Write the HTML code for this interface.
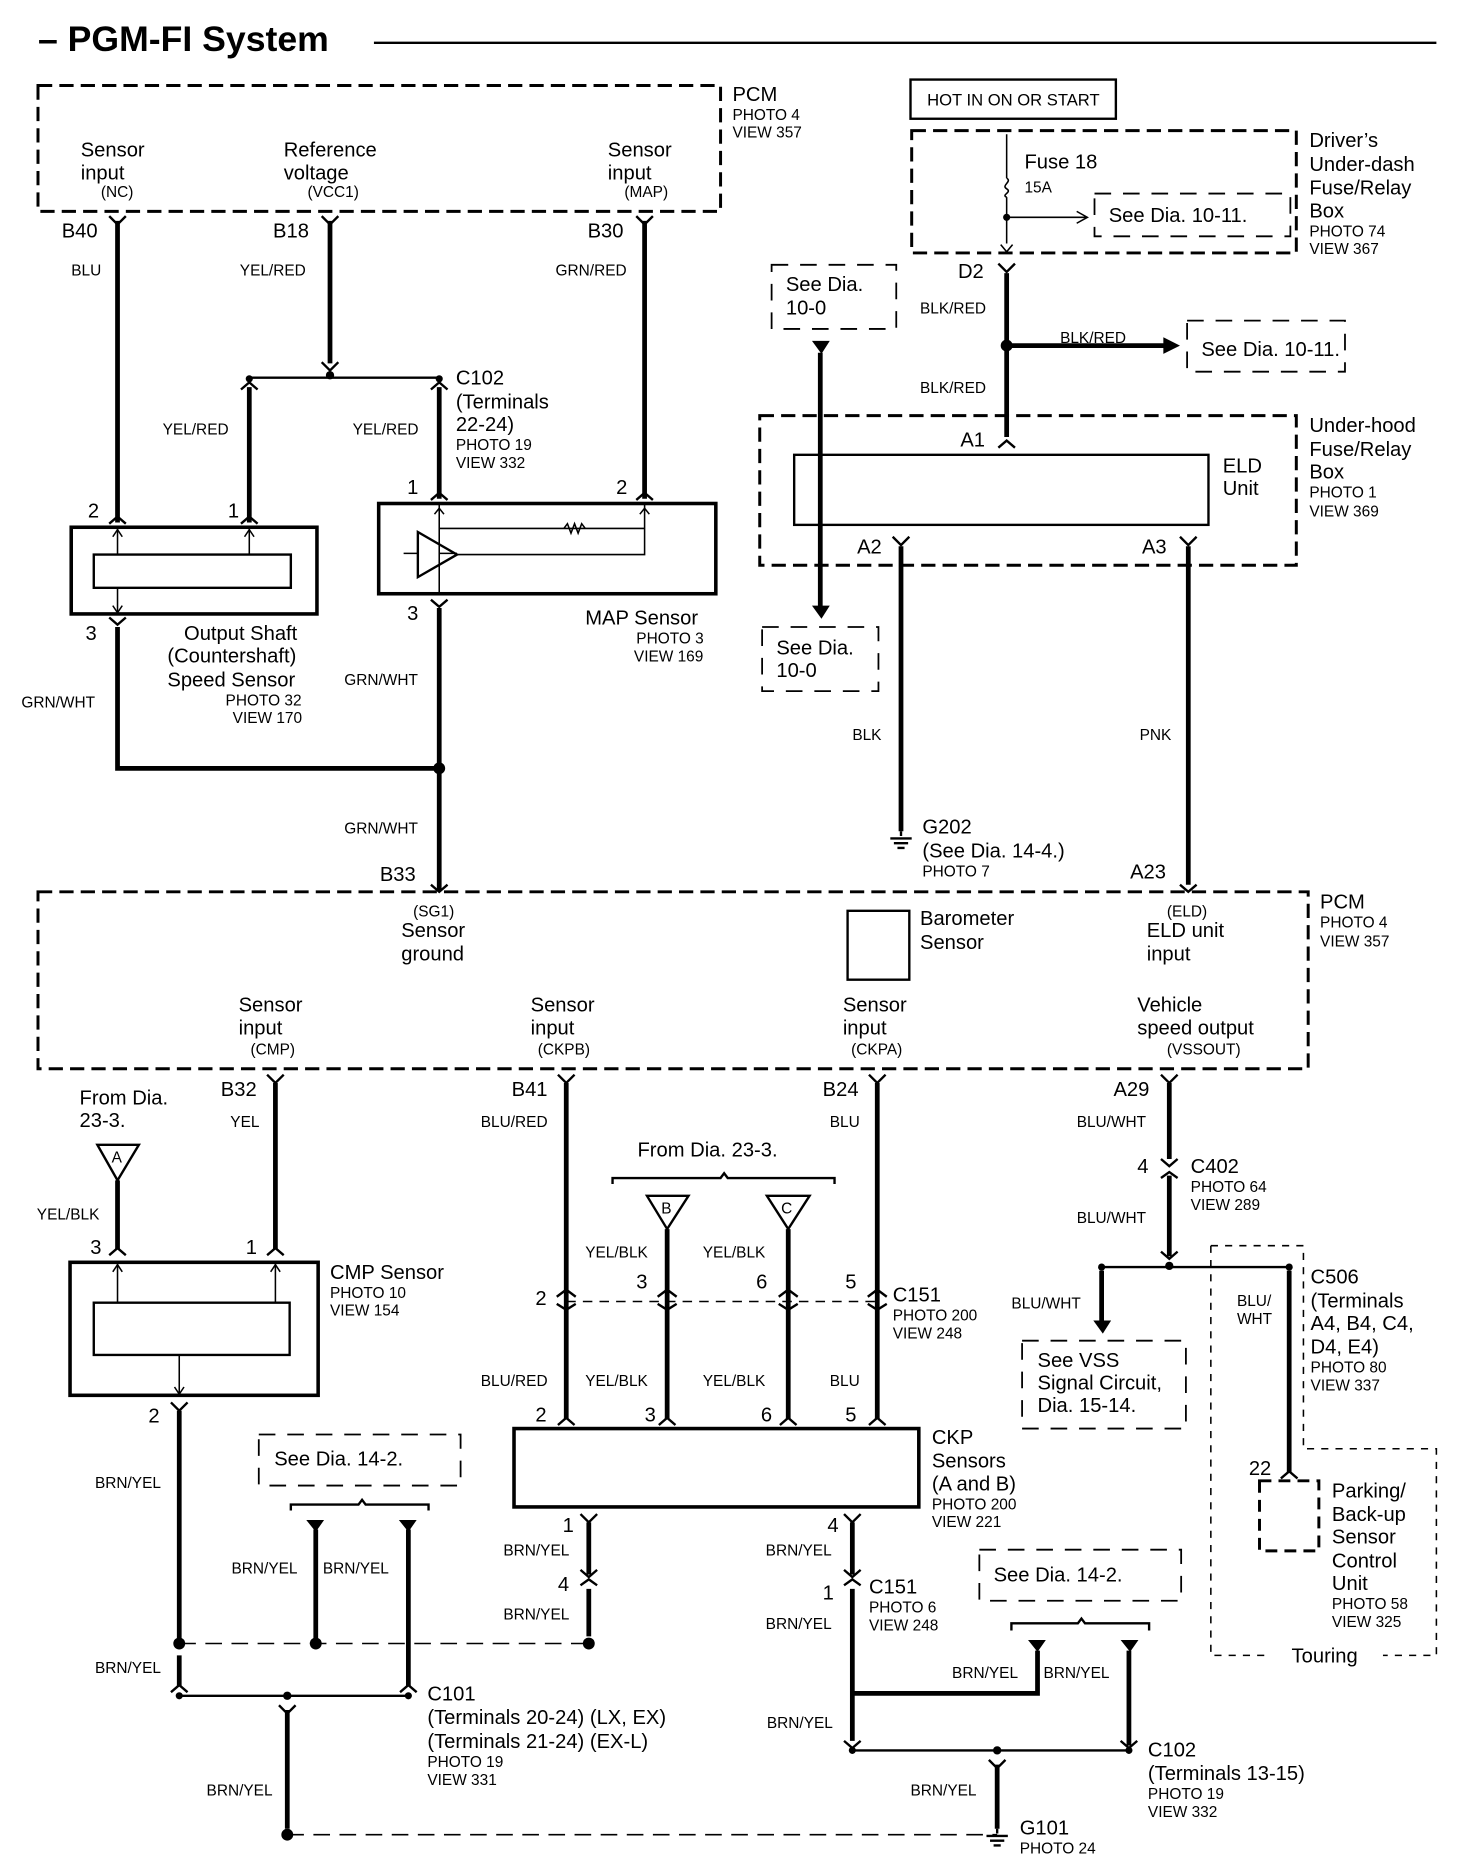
<!DOCTYPE html>
<html><head><meta charset="utf-8"><style>
html,body{margin:0;padding:0;background:#fff}
svg{display:block}
text{font-family:"Liberation Sans",sans-serif;fill:#000}
.l{font-size:17px}.s{font-size:13px}.w{font-size:13px}
.t{stroke:#000;stroke-width:4;fill:none}
.n{stroke:#000;stroke-width:2;fill:none}
.h{stroke:#000;stroke-width:1.3;fill:none}
.d{stroke:#000;stroke-width:2.5;fill:none;stroke-dasharray:12 6}
.dd{stroke:#000;stroke-width:1.5;fill:none;stroke-dasharray:14 10}
</style></head><body>
<svg width="1472" height="1862" viewBox="0 0 1240 1568" preserveAspectRatio="none" xmlns="http://www.w3.org/2000/svg">
<text x="32" y="43" style="font-size:30px;font-weight:bold">– PGM-FI System</text>
<line x1="315" y1="36" x2="1210" y2="36" class="n"/>

<!-- top PCM -->
<rect x="32" y="72" width="575" height="106" class="d"/>
<text x="617" y="85" class="l">PCM</text><text x="617" y="101" class="s">PHOTO 4</text><text x="617" y="116" class="s">VIEW 357</text>
<text x="68" y="132" class="l">Sensor</text><text x="68" y="151" class="l">input</text><text x="85" y="166" class="s">(NC)</text>
<text x="239" y="132" class="l">Reference</text><text x="239" y="151" class="l">voltage</text><text x="259" y="166" class="s">(VCC1)</text>
<text x="512" y="132" class="l">Sensor</text><text x="512" y="151" class="l">input</text><text x="526" y="166" class="s">(MAP)</text>
<text x="52" y="200" class="l">B40</text><text x="230" y="200" class="l">B18</text><text x="495" y="200" class="l">B30</text>
<text x="60" y="232" class="w">BLU</text><text x="202" y="232" class="w">YEL/RED</text><text x="468" y="232" class="w">GRN/RED</text>
<path d="M99 186V440M278 186V306M543 186V420M210 326V440M370 326V420" class="t"/>
<path d="M92 182l7 7 7-7M271 182l7 7 7-7M536 182l7 7 7-7" class="n"/>
<path d="M210 318H370" class="n"/><circle cx="278" cy="316" r="3.5"/><circle cx="210" cy="319" r="3"/><circle cx="370" cy="319" r="3"/>
<path d="M271 305l7 7 7-7M203 328l7-6 7 6M363 328l7-6 7 6" class="n"/>
<text x="137" y="366" class="w">YEL/RED</text><text x="297" y="366" class="w">YEL/RED</text>
<text x="384" y="324" class="l">C102</text><text x="384" y="344" class="l">(Terminals</text><text x="384" y="363" class="l">22-24)</text><text x="384" y="379" class="s">PHOTO 19</text><text x="384" y="394" class="s">VIEW 332</text>
<text x="74" y="436" class="l">2</text><text x="192" y="436" class="l">1</text><text x="343" y="416" class="l">1</text><text x="519" y="416" class="l">2</text>
<path d="M92 441l7-6 7 6M203 441l7-6 7 6M363 421l7-6 7 6M536 421l7-6 7 6" class="n"/>
<rect x="60" y="444" width="207" height="73" class="t" style="stroke-width:3"/>
<rect x="79" y="467" width="166" height="28" class="n"/>
<path d="M99 467V444M210 467V444" class="h"/><path d="M95 452l4-6 4 6M206 452l4-6 4 6M95 510l4 6 4-6" class="h"/><path d="M99 495V517" class="h"/>
<rect x="319" y="424" width="284" height="76" class="t" style="stroke-width:3"/>
<path d="M370 424V445H543V424M370 445V500M370 466H385M543 445V467H385M340 466H352" class="h"/>
<path d="M352 448L385 467L352 486Z" class="n"/>
<path d="M475 445l3-4 3 8 3-8 3 8 3-8 3 4" class="h"/>
<path d="M366 433l4-5 4 5M539 433l4-5 4 5" class="h"/>
<text x="72" y="539" class="l">3</text><text x="343" y="522" class="l">3</text>
<path d="M92 520l7 6 7-6M363 505l7 6 7-6" class="n"/>
<path d="M99 528V647H370M370 512V750" class="t"/><circle cx="370" cy="647" r="5"/>
<text x="155" y="539" class="l">Output Shaft</text><text x="141" y="558" class="l">(Countershaft)</text><text x="141" y="578" class="l">Speed Sensor</text><text x="190" y="594" class="s">PHOTO 32</text><text x="196" y="609" class="s">VIEW 170</text>
<text x="493" y="526" class="l">MAP Sensor</text><text x="536" y="542" class="s">PHOTO 3</text><text x="534" y="557" class="s">VIEW 169</text>
<text x="18" y="596" class="w">GRN/WHT</text><text x="290" y="577" class="w">GRN/WHT</text><text x="290" y="702" class="w">GRN/WHT</text>
<text x="320" y="742" class="l">B33</text>

<!-- top right -->
<rect x="767" y="67" width="173" height="33" class="n"/><text x="781" y="89" style="font-size:14px">HOT IN ON OR START</text>
<rect x="768" y="110" width="324" height="103" class="d"/>
<text x="1103" y="124" class="l">Driver’s</text><text x="1103" y="144" class="l">Under-dash</text><text x="1103" y="164" class="l">Fuse/Relay</text><text x="1103" y="183" class="l">Box</text><text x="1103" y="199" class="s">PHOTO 74</text><text x="1103" y="214" class="s">VIEW 367</text>
<path d="M848 113V150M848 166V205" class="h"/><path d="M848 150c5 3-5 6 0 9s-5 5 0 7" class="h"/>
<circle cx="848" cy="183" r="3"/><path d="M848 183H915" class="h"/><path d="M907 178l9 5-9 5" class="h"/>
<text x="863" y="142" class="l">Fuse 18</text><text x="863" y="162" class="s">15A</text>
<rect x="922" y="163" width="165" height="36" class="dd"/><text x="934" y="187" class="l">See Dia. 10-11.</text>
<path d="M843 206l5 6 5-6" class="h"/>
<text x="807" y="234" class="l">D2</text><path d="M841 222l7 7 7-7" class="n"/>
<path d="M848 230V368" class="t"/><circle cx="848" cy="291" r="5"/>
<path d="M848 291H985" class="t"/><path d="M980 284l14 7-14 7Z"/>
<text x="775" y="264" class="w">BLK/RED</text><text x="893" y="289" class="w">BLK/RED</text><text x="775" y="331" class="w">BLK/RED</text>
<rect x="1000" y="270" width="133" height="43" class="dd"/><text x="1012" y="300" class="l">See Dia. 10-11.</text>
<rect x="650" y="223" width="105" height="54" class="dd"/><text x="662" y="245" class="l">See Dia.</text><text x="662" y="265" class="l">10-0</text>
<path d="M684 287h15l-7 11Z"/><path d="M691 297V512" class="t"/><path d="M684 510h15l-7 11Z"/>
<rect x="642" y="528" width="98" height="54" class="dd"/><text x="654" y="551" class="l">See Dia.</text><text x="654" y="570" class="l">10-0</text>
<rect x="640" y="350" width="452" height="126" class="d"/>
<text x="1103" y="364" class="l">Under-hood</text><text x="1103" y="384" class="l">Fuse/Relay</text><text x="1103" y="403" class="l">Box</text><text x="1103" y="419" class="s">PHOTO 1</text><text x="1103" y="435" class="s">VIEW 369</text>
<text x="809" y="376" class="l">A1</text><path d="M841 377l7-6 7 6" class="n"/>
<rect x="669" y="383" width="349" height="59" class="n"/>
<text x="1030" y="398" class="l">ELD</text><text x="1030" y="417" class="l">Unit</text>
<text x="722" y="466" class="l">A2</text><text x="962" y="466" class="l">A3</text>
<path d="M752 452l7 7 7-7M994 452l7 7 7-7" class="n"/>
<path d="M759 460V700M1001 460V745" class="t"/>
<text x="718" y="623" class="w">BLK</text><text x="960" y="623" class="w">PNK</text>
<path d="M759 700v4M750 706h18M753 710h12M756 714h6" class="n"/>
<text x="777" y="702" class="l">G202</text><text x="777" y="722" class="l">(See Dia. 14-4.)</text><text x="777" y="738" class="s">PHOTO 7</text>
<text x="952" y="740" class="l">A23</text><path d="M994 745l7 6 7-6M363 745l7 6 7-6" class="n"/>

<!-- big PCM -->
<rect x="32" y="751" width="1070" height="149" class="d"/>
<text x="1112" y="765" class="l">PCM</text><text x="1112" y="781" class="s">PHOTO 4</text><text x="1112" y="797" class="s">VIEW 357</text>
<text x="348" y="772" class="s">(SG1)</text><text x="338" y="789" class="l">Sensor</text><text x="338" y="809" class="l">ground</text>
<rect x="714" y="767" width="52" height="58" class="n"/><text x="775" y="779" class="l">Barometer</text><text x="775" y="799" class="l">Sensor</text>
<text x="983" y="772" class="s">(ELD)</text><text x="966" y="789" class="l">ELD unit</text><text x="966" y="809" class="l">input</text>
<text x="201" y="852" class="l">Sensor</text><text x="201" y="871" class="l">input</text><text x="211" y="888" class="s">(CMP)</text>
<text x="447" y="852" class="l">Sensor</text><text x="447" y="871" class="l">input</text><text x="453" y="888" class="s">(CKPB)</text>
<text x="710" y="852" class="l">Sensor</text><text x="710" y="871" class="l">input</text><text x="717" y="888" class="s">(CKPA)</text>
<text x="958" y="852" class="l">Vehicle</text><text x="958" y="871" class="l">speed output</text><text x="983" y="888" class="s">(VSSOUT)</text>

<!-- lower wires -->
<text x="186" y="923" class="l">B32</text><text x="431" y="923" class="l">B41</text><text x="693" y="923" class="l">B24</text><text x="938" y="923" class="l">A29</text>
<path d="M225 905l7 7 7-7M470 905l7 7 7-7M732 905l7 7 7-7M978 905l7 7 7-7" class="n"/>
<path d="M232 912V1052M477 912V1195M739 912V1195M985 912V976M985 990V1058" class="t"/>
<text x="194" y="949" class="w">YEL</text><text x="405" y="949" class="w">BLU/RED</text><text x="699" y="949" class="w">BLU</text><text x="907" y="949" class="w">BLU/WHT</text>
<text x="67" y="930" class="l">From Dia.</text><text x="67" y="949" class="l">23-3.</text>
<path d="M82 964H117L99 994Z" class="n"/><text x="94" y="979" class="s">A</text>
<path d="M99 994V1052" class="t"/><text x="31" y="1027" class="w">YEL/BLK</text>
<text x="76" y="1056" class="l">3</text><text x="207" y="1056" class="l">1</text>
<path d="M92 1057l7-6 7 6M225 1057l7-6 7 6" class="n"/>
<rect x="59" y="1063" width="209" height="112" class="t" style="stroke-width:3"/>
<rect x="79" y="1097" width="165" height="44" class="n"/>
<path d="M99 1097V1063M232 1097V1063M151 1141V1175" class="h"/><path d="M95 1071l4-6 4 6M228 1071l4-6 4 6M147 1168l4 6 4-6" class="h"/>
<text x="278" y="1077" class="l">CMP Sensor</text><text x="278" y="1093" class="s">PHOTO 10</text><text x="278" y="1108" class="s">VIEW 154</text>
<text x="125" y="1198" class="l">2</text><path d="M144 1181l7 7 7-7" class="n"/>
<path d="M151 1188V1384M151 1394V1420" class="t"/><text x="80" y="1253" class="w">BRN/YEL</text>
<text x="537" y="974" class="l">From Dia. 23-3.</text>
<path d="M516 997V992H607l3-4 3 4H703V997" class="n"/>
<path d="M545 1007H580L562 1035Z" class="n"/><text x="557" y="1022" class="s">B</text>
<path d="M646 1007H682L664 1035Z" class="n"/><text x="658" y="1022" class="s">C</text>
<path d="M562 1035V1195M664 1035V1195" class="t"/>
<text x="493" y="1059" class="w">YEL/BLK</text><text x="592" y="1059" class="w">YEL/BLK</text>
<text x="451" y="1099" class="l">2</text><text x="536" y="1085" class="l">3</text><text x="637" y="1085" class="l">6</text><text x="712" y="1085" class="l">5</text>
<path d="M469 1092l8-6 8 6M469 1098l8 5 8-5M554 1092l8-6 8 6M554 1098l8 5 8-5M656 1092l8-6 8 6M656 1098l8 5 8-5M731 1092l8-6 8 6M731 1098l8 5 8-5" class="n"/>
<path d="M477 1096H739" class="h" style="stroke-dasharray:8 6"/>
<text x="752" y="1096" class="l">C151</text><text x="752" y="1112" class="s">PHOTO 200</text><text x="752" y="1127" class="s">VIEW 248</text>
<text x="405" y="1167" class="w">BLU/RED</text><text x="493" y="1167" class="w">YEL/BLK</text><text x="592" y="1167" class="w">YEL/BLK</text><text x="699" y="1167" class="w">BLU</text>
<text x="451" y="1197" class="l">2</text><text x="543" y="1197" class="l">3</text><text x="641" y="1197" class="l">6</text><text x="712" y="1197" class="l">5</text>
<path d="M470 1200l7-6 7 6M555 1200l7-6 7 6M657 1200l7-6 7 6M732 1200l7-6 7 6" class="n"/>
<rect x="433" y="1203" width="341" height="66" class="t" style="stroke-width:3"/>
<text x="785" y="1216" class="l">CKP</text><text x="785" y="1236" class="l">Sensors</text><text x="785" y="1255" class="l">(A and B)</text><text x="785" y="1271" class="s">PHOTO 200</text><text x="785" y="1286" class="s">VIEW 221</text>
<text x="474" y="1290" class="l">1</text><text x="697" y="1290" class="l">4</text>
<path d="M489 1275l7 7 7-7M711 1275l7 7 7-7" class="n"/>
<path d="M496 1282V1326M496 1338V1378M718 1282V1326M718 1338V1466" class="t"/>
<path d="M489 1322l7 6 7-6M489 1335l7-5 7 5M711 1322l7 6 7-6M711 1335l7-5 7 5" class="n"/>
<text x="424" y="1310" class="w">BRN/YEL</text><text x="645" y="1310" class="w">BRN/YEL</text>
<text x="470" y="1340" class="l">4</text><text x="693" y="1347" class="l">1</text>
<text x="424" y="1364" class="w">BRN/YEL</text><text x="645" y="1372" class="w">BRN/YEL</text>
<text x="732" y="1342" class="l">C151</text><text x="732" y="1358" class="s">PHOTO 6</text><text x="732" y="1373" class="s">VIEW 248</text>
<rect x="218" y="1208" width="170" height="43" class="dd"/><text x="231" y="1234" class="l">See Dia. 14-2.</text>
<path d="M245 1272V1267H302l3-4 3 4H361V1272" class="n"/>
<path d="M258 1280h15l-7 10Z M336 1280h15l-7 10Z"/>
<path d="M266 1288V1380M344 1288V1420" class="t"/>
<text x="195" y="1325" class="w">BRN/YEL</text><text x="272" y="1325" class="w">BRN/YEL</text>
<circle cx="151" cy="1384" r="5"/><circle cx="266" cy="1384" r="5"/><circle cx="496" cy="1384" r="5"/>
<path d="M151 1384H496" class="h" style="stroke-dasharray:14 8"/>
<text x="80" y="1409" class="w">BRN/YEL</text>
<path d="M144 1425l7-6 7 6M337 1425l7-6 7 6" class="n"/>
<path d="M151 1428H344" class="n"/><circle cx="151" cy="1428" r="3"/><circle cx="344" cy="1428" r="3"/><circle cx="242" cy="1428" r="3.5"/>
<path d="M235 1436l7 7 7-7" class="n"/><path d="M242 1440V1540" class="t"/>
<text x="360" y="1432" class="l">C101</text><text x="360" y="1452" class="l">(Terminals 20-24) (LX, EX)</text><text x="360" y="1472" class="l">(Terminals 21-24) (EX-L)</text><text x="360" y="1488" class="s">PHOTO 19</text><text x="360" y="1503" class="s">VIEW 331</text>
<text x="174" y="1512" class="w">BRN/YEL</text>
<circle cx="242" cy="1545" r="5"/><path d="M242 1545H840" class="h" style="stroke-dasharray:14 8"/>
<rect x="825" y="1305" width="170" height="43" class="dd"/><text x="837" y="1332" class="l">See Dia. 14-2.</text>
<path d="M852 1373V1367H908l3-4 3 4H968V1373" class="n"/>
<path d="M866 1381h15l-7 10Z M944 1381h15l-7 10Z"/>
<path d="M874 1390V1426H718M951 1390V1470" class="t"/>
<text x="802" y="1413" class="w">BRN/YEL</text><text x="879" y="1413" class="w">BRN/YEL</text>
<path d="M711 1466l7 6 7-6M944 1466l7 6 7-6" class="n"/>
<path d="M718 1474H951" class="n"/><circle cx="718" cy="1474" r="3"/><circle cx="951" cy="1474" r="3"/><circle cx="840" cy="1474" r="3.5"/>
<text x="646" y="1455" class="w">BRN/YEL</text>
<path d="M833 1482l7 7 7-7" class="n"/><path d="M840 1486V1540" class="t"/>
<text x="767" y="1512" class="w">BRN/YEL</text>
<path d="M840 1540v4M831 1546h18M834 1550h12M837 1554h6" class="n"/>
<text x="859" y="1545" class="l">G101</text><text x="859" y="1561" class="s">PHOTO 24</text>
<text x="967" y="1479" class="l">C102</text><text x="967" y="1499" class="l">(Terminals 13-15)</text><text x="967" y="1515" class="s">PHOTO 19</text><text x="967" y="1530" class="s">VIEW 332</text>

<!-- VSS area -->
<path d="M978 976l7 6 7-6M978 992l7-5 7 5" class="n"/>
<text x="958" y="988" class="l">4</text><text x="1003" y="988" class="l">C402</text><text x="1003" y="1004" class="s">PHOTO 64</text><text x="1003" y="1019" class="s">VIEW 289</text>
<text x="907" y="1030" class="w">BLU/WHT</text>
<path d="M978 1054l7 6 7-6" class="n"/>
<path d="M928 1067H1086" class="n"/><circle cx="985" cy="1066" r="3.5"/><circle cx="928" cy="1067" r="3"/><circle cx="1086" cy="1067" r="3"/>
<path d="M928 1070V1115M1086 1070V1240" class="t"/><path d="M921 1112h15l-7 11Z"/>
<text x="852" y="1102" class="w">BLU/WHT</text><text x="1042" y="1100" class="w">BLU/</text><text x="1042" y="1115" class="w">WHT</text>
<rect x="861" y="1129" width="138" height="74" class="dd"/><text x="874" y="1151" class="l">See VSS</text><text x="874" y="1170" class="l">Signal Circuit,</text><text x="874" y="1189" class="l">Dia. 15-14.</text>
<text x="1104" y="1081" class="l">C506</text><text x="1104" y="1101" class="l">(Terminals</text><text x="1104" y="1120" class="l">A4, B4, C4,</text><text x="1104" y="1140" class="l">D4, E4)</text><text x="1104" y="1156" class="s">PHOTO 80</text><text x="1104" y="1171" class="s">VIEW 337</text>
<path d="M1020 1049V1394H1065M1020 1049H1098V1220H1210V1394H1165" class="h" style="stroke-dasharray:6 6"/>
<text x="1088" y="1400" class="l">Touring</text>
<text x="1052" y="1242" class="l">22</text><path d="M1079 1245l7-6 7 6" class="n"/>
<rect x="1061" y="1247" width="50" height="59" class="d" style="stroke-dasharray:10 6"/>
<text x="1122" y="1261" class="l">Parking/</text><text x="1122" y="1281" class="l">Back-up</text><text x="1122" y="1300" class="l">Sensor</text><text x="1122" y="1320" class="l">Control</text><text x="1122" y="1339" class="l">Unit</text><text x="1122" y="1355" class="s">PHOTO 58</text><text x="1122" y="1370" class="s">VIEW 325</text>
</svg>
</body></html>
